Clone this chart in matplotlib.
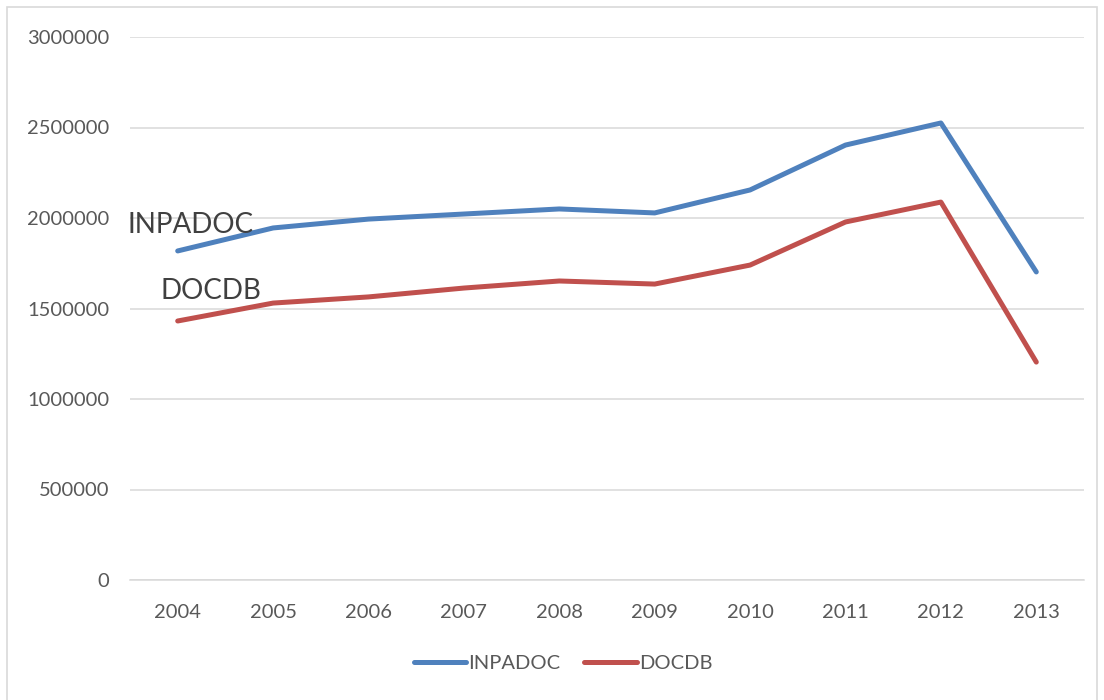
import matplotlib.pyplot as plt
from matplotlib.patches import Rectangle

years = ['2004', '2005', '2006', '2007', '2008', '2009', '2010', '2011', '2012', '2013']
inpadoc = [1818000, 1945000, 1994000, 2022000, 2050000, 2028000, 2155000, 2403000, 2525000, 1702000]
docdb = [1431000, 1530000, 1564000, 1613000, 1652000, 1635000, 1740000, 1978000, 2088000, 1204000]

plt.rcParams['font.family'] = ['Lato', 'DejaVu Sans']

fig = plt.figure(figsize=(11.04, 7), dpi=100)
fig.patches.append(Rectangle((7 / 1104, -5 / 700), 1090 / 1104, 698 / 700, transform=fig.transFigure,
                             fill=False, edgecolor='#D9D9D9', linewidth=1.2))
ax = fig.add_axes([130 / 1104, 120 / 700, 954 / 1104, 543 / 700])

x = range(len(years))
ax.plot(x, inpadoc, color='#4F81BD', linewidth=3.6, solid_capstyle='round', label='INPADOC')
ax.plot(x, docdb, color='#C0504D', linewidth=3.6, solid_capstyle='round', label='DOCDB')

ax.set_xlim(-0.5, 9.5)
ax.set_ylim(0, 3000000)
ax.set_yticks(range(0, 3000001, 500000))
ax.set_yticklabels([str(v) for v in range(0, 3000001, 500000)])
ax.set_xticks(list(x))
ax.set_xticklabels(years)
ax.grid(axis='y', color='#D9D9D9', linewidth=1.1)
ax.set_axisbelow(True)
for s in ['top', 'right', 'left']:
    ax.spines[s].set_visible(False)
ax.spines['bottom'].set_color('#D9D9D9')
ax.spines['bottom'].set_linewidth(1.1)
ax.tick_params(length=0, labelsize=14.5, labelcolor='#595959')
ax.tick_params(axis='y', pad=15)
ax.tick_params(axis='x', pad=17)

ax.text(-0.525, 1961000, 'INPADOC', fontsize=20, color='#404040', ha='left', va='center')
ax.text(-0.178, 1597000, 'DOCDB', fontsize=20, color='#404040', ha='left', va='center')

leg = fig.legend(loc='center', bbox_to_anchor=(563 / 1104, 37 / 700), ncol=2, frameon=False,
                 fontsize=14.5, handlelength=2.6, handletextpad=0.1, columnspacing=1.2)
for t in leg.get_texts():
    t.set_color('#595959')

fig.savefig('out.png', dpi=100)
